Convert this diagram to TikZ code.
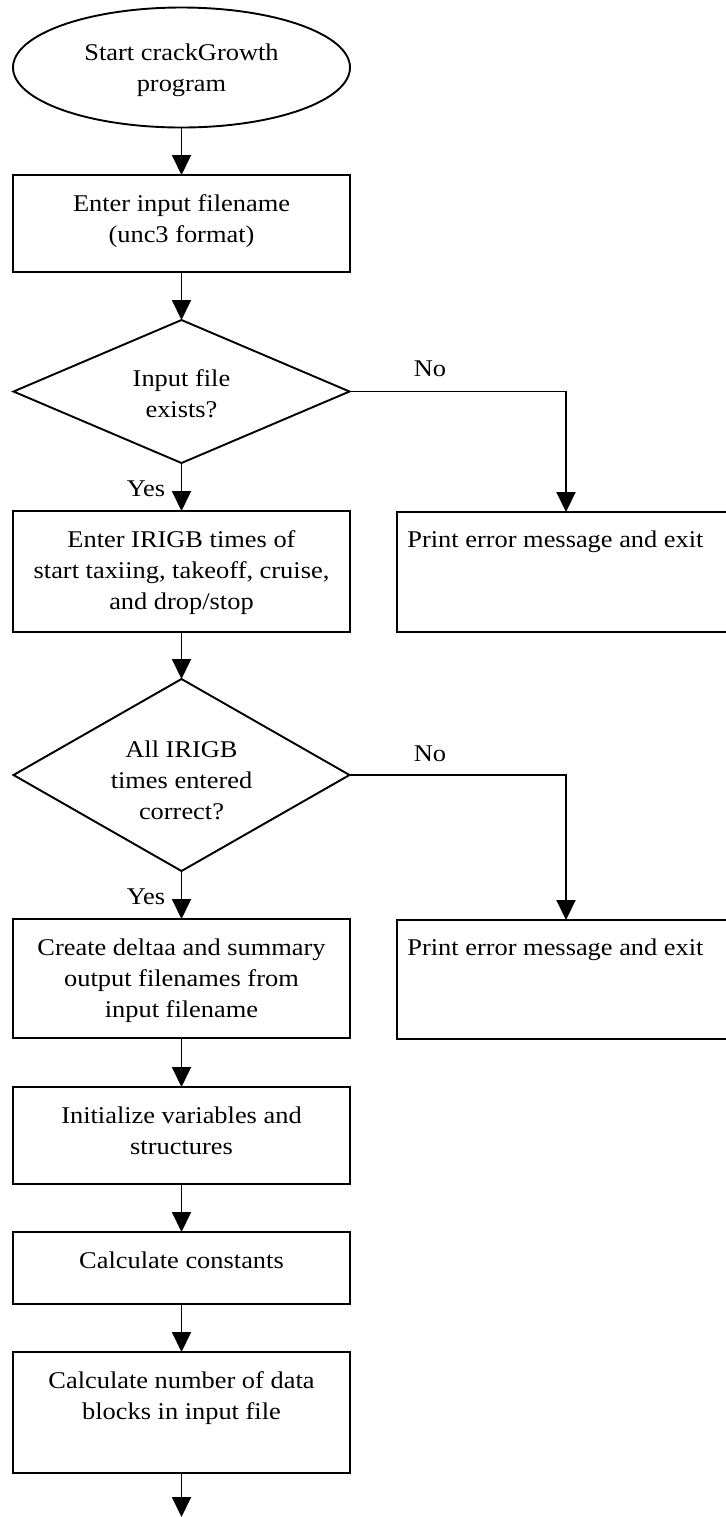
\documentclass[tikz,border=0pt]{standalone}
\usepackage{fontspec}
\setmainfont[FakeStretch=1.1]{Liberation Serif}
\usetikzlibrary{shapes.geometric,arrows.meta}
\begin{document}
\begin{tikzpicture}[x=0.5pt,y=-0.5pt,
  every node/.style={font=\fontsize{12}{15.5}\selectfont},
  shp/.style={draw, line width=0.95pt, inner sep=0pt, outer sep=0pt},
  boxs/.style={shp, rectangle, minimum width=168.5pt},
  errbox/.style={shp, rectangle, minimum width=169pt, minimum height=60pt},
  lbl/.style={anchor=base, align=center, inner sep=0pt},
  lblw/.style={anchor=base west, align=left, inner sep=0pt},
  arr/.style={line width=0.95pt, -{Triangle[width=9.5pt,length=10pt]}},
]
\useasboundingbox (0,0) rectangle (725,1517);

% shapes
\node[shp, ellipse, minimum width=168.5pt, minimum height=60pt] (start) at (181.5,67.5) {};
\node[boxs, minimum height=48.5pt] (b1) at (181.5,223.5) {};
\node[shp, diamond, minimum width=168pt, minimum height=71.5pt] (d1) at (181.5,391.5) {};
\node[boxs, minimum height=60.5pt] (b2) at (181.5,571.5) {};
\node[errbox] (e1) at (566,572) {};
\node[shp, diamond, minimum width=168pt, minimum height=96pt] (d2) at (181.5,775) {};
\node[boxs, minimum height=59.5pt] (b3) at (181.5,978.5) {};
\node[errbox, minimum height=59.5pt] (e2) at (566,979.5) {};
\node[boxs, minimum height=48.5pt] (b4) at (181.5,1135.5) {};
\node[boxs, minimum height=36pt] (b5) at (181.5,1268) {};
\node[boxs, minimum height=60.5pt] (b6) at (181.5,1412.5) {};
\coordinate (endpt) at (181.5,1517);

% texts (anchor = baseline of the last line)
\node[lbl] (tstart) at (181.5,91) {Start crackGrowth\\program};
\node[lbl] (tb1) at (181.5,242) {Enter input filename\\(unc3 format)};
\node[lbl] (td1) at (181.5,417) {Input file\\exists?};
\node[lbl] (tb2) at (181.5,609) {Enter IRIGB times of\\start taxiing, takeoff, cruise,\\and drop/stop};
\node[lblw] (te1) at (407,547) {Print error message and exit};
\node[lbl] (td2) at (181.5,819) {All IRIGB\\times entered\\correct?};
\node[lbl] (tb3) at (181.5,1017) {Create deltaa and summary\\output filenames from\\input filename};
\node[lblw] (te2) at (407,955) {Print error message and exit};
\node[lbl] (tb4) at (181.5,1154) {Initialize variables and\\structures};
\node[lbl] (tb5) at (181.5,1268) {Calculate constants};
\node[lbl] (tb6) at (181.5,1419) {Calculate number of data\\blocks in input file};

% edge labels
\node[lbl] (no1) at (430,376) {No};
\node[lbl] (yes1) at (146,496) {Yes};
\node[lbl] (no2) at (430,761) {No};
\node[lbl] (yes2) at (146,904) {Yes};

% connectors
\draw[arr] (start.south) -- (b1.north);
\draw[arr] (b1.south) -- (d1.north);
\draw[arr] (d1.south) -- (b2.north);
\draw[arr] (d1.east) -| (e1.north);
\draw[arr] (b2.south) -- (d2.north);
\draw[arr] (d2.south) -- (b3.north);
\draw[arr] (d2.east) -| (e2.north);
\draw[arr] (b3.south) -- (b4.north);
\draw[arr] (b4.south) -- (b5.north);
\draw[arr] (b5.south) -- (b6.north);
\draw[arr] (b6.south) -- (endpt);
\end{tikzpicture}
\end{document}
